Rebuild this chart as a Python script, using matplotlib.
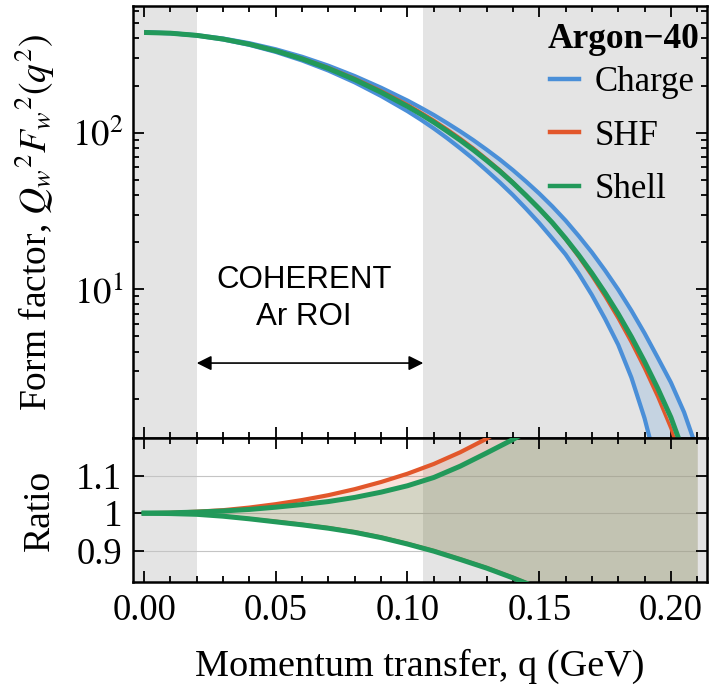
import matplotlib
matplotlib.use('Agg')
import matplotlib.pyplot as plt
from matplotlib.ticker import FixedLocator, FixedFormatter, MultipleLocator, NullFormatter
from matplotlib.lines import Line2D

plt.rcParams['font.family'] = ['Liberation Serif', 'DejaVu Serif']
plt.rcParams['mathtext.fontset'] = 'stix'

# ---------------- data ----------------
q_top = [0.00, 0.01, 0.02, 0.03, 0.04, 0.05, 0.06, 0.07, 0.08, 0.09, 0.10, 0.105,
         0.11, 0.115, 0.12, 0.125, 0.13, 0.135, 0.14, 0.145, 0.15, 0.155, 0.16,
         0.165, 0.17, 0.175, 0.18, 0.185, 0.19, 0.195, 0.20, 0.205, 0.21]
charge_lo = [436.5, 431.4, 416.8, 393.7, 363.5, 327.8, 289.0, 249.2, 209.4, 171.4,
             137.2, 121.3, 106.4, 92.4, 79.5, 68.0, 57.4, 48.2, 40.0, 32.7, 26.5,
             21.1, 16.7, 12.6, 9.20, 6.48, 4.42, 2.73, 1.50, 0.71, 0.28, 0.085, 0.017]
charge_hi = [436.5, 432.1, 419.3, 399.2, 372.7, 340.8, 305.2, 267.6, 229.8, 193.6,
             160.3, 144.5, 129.7, 115.3, 102.0, 89.6, 78.0, 67.5, 57.7, 48.8, 40.9,
             33.8, 27.5, 21.9, 17.2, 13.2, 9.95, 7.31, 5.24, 3.66, 2.54, 1.64, 0.94]
shf = [436.5, 431.8, 418.2, 396.7, 368.4, 335.3, 298.8, 260.5, 222.2, 185.2,
       151.4, 135.2, 120.1, 105.6, 92.2, 79.8, 68.2, 58.0, 48.5, 40.0, 32.7,
       26.3, 20.77, 16.04, 12.14, 8.98, 6.49, 4.56, 3.11, 2.05, 1.29, 0.728, 0.356]
shell = [436.5, 431.8, 418.0, 396.0, 367.1, 333.0, 295.7, 256.9, 218.1, 181.0,
         147.2, 131.4, 116.6, 102.4, 89.5, 77.6, 66.6, 56.8, 47.8, 39.7, 32.7,
         26.6, 21.15, 16.53, 12.66, 9.49, 6.96, 4.97, 3.45, 2.33, 1.52, 0.894, 0.458]

q_ratio = [0.00, 0.01, 0.02, 0.03, 0.04, 0.05, 0.06, 0.07, 0.08, 0.09, 0.10,
           0.11, 0.12, 0.13, 0.14, 0.15, 0.16, 0.17, 0.18, 0.19, 0.20, 0.21]
shf_ratio_hi = [1.000, 1.001, 1.004, 1.008, 1.015, 1.024, 1.035, 1.048, 1.064,
                1.083, 1.105, 1.131, 1.162, 1.198, 1.24, 1.29, 1.35, 1.42, 1.50,
                1.60, 1.72, 1.87]
shf_ratio_lo = [1.000, 0.999, 0.997, 0.993, 0.986, 0.979, 0.971, 0.962, 0.951,
                0.937, 0.920, 0.901, 0.879, 0.856, 0.830, 0.802, 0.772, 0.737,
                0.702, 0.662, 0.612, 0.552]
shell_ratio_hi = [1.000, 1.001, 1.003, 1.006, 1.010, 1.016, 1.023, 1.031, 1.042,
                  1.056, 1.073, 1.095, 1.125, 1.160, 1.196, 1.235, 1.28, 1.33,
                  1.40, 1.48, 1.58, 1.70]
shell_ratio_lo = [1.000, 0.999, 0.997, 0.992, 0.985, 0.977, 0.969, 0.960, 0.949,
                  0.935, 0.918, 0.899, 0.877, 0.854, 0.828, 0.800, 0.770, 0.735,
                  0.700, 0.660, 0.610, 0.550]

roi_lo, roi_hi = 0.02, 0.106
x_ticks = [0.00, 0.05, 0.10, 0.15, 0.20]
x_ticklabels = ['0.00', '0.05', '0.10', '0.15', '0.20']
ratio_ticks = [0.9, 1.0, 1.1]
ratio_ticklabels = ['0.9', '1', '1.1']
legend_title = 'Argon\u221240'
legend_labels = ['Charge', 'SHF', 'Shell']

# ---------------- style ----------------
C_BLUE = '#4a8fd8'
C_RED = '#e2572b'
C_GREEN = '#22995a'
C_GRAY = '#e4e4e4'
XLIM = (-0.0042, 0.2137)

fig = plt.figure(figsize=(7.09, 6.94), dpi=100)
W, H = 709, 694
ax1 = fig.add_axes([133 / W, 1 - 438 / H, 574 / W, 432 / H])
ax2 = fig.add_axes([133 / W, 1 - 582 / H, 574 / W, 144 / H])

for ax in (ax1, ax2):
    ax.set_xlim(*XLIM)
    ax.axvspan(XLIM[0], roi_lo, color=C_GRAY, lw=0, zorder=0)
    ax.axvspan(roi_hi, XLIM[1], color=C_GRAY, lw=0, zorder=0)
    ax.xaxis.set_major_locator(FixedLocator(x_ticks))
    ax.xaxis.set_minor_locator(MultipleLocator(0.01))
    ax.tick_params(which='both', direction='in', top=True, right=True,
                   width=1.3, labelsize=26.5)
    ax.tick_params(which='major', length=8)
    ax.tick_params(which='minor', length=4.5)
    for s in ax.spines.values():
        s.set_linewidth(1.8)

# ---- top panel ----
ax1.set_yscale('log')
ax1.set_ylim(1.123, 644)
ax1.fill_between(q_top, charge_lo, charge_hi, color=C_BLUE, alpha=0.2, lw=0, zorder=1)
ax1.plot(q_top, charge_lo, color=C_BLUE, lw=3.0, zorder=2, solid_capstyle='butt')
ax1.plot(q_top, charge_hi, color=C_BLUE, lw=3.0, zorder=2, solid_capstyle='butt')
ax1.plot(q_top, shf, color=C_RED, lw=2.3, zorder=3, solid_capstyle='butt')
ax1.plot(q_top, shell, color=C_GREEN, lw=3.6, zorder=4, solid_capstyle='butt')

ax1.yaxis.set_major_locator(FixedLocator([10, 100]))
ax1.yaxis.set_major_formatter(FixedFormatter([r'$10^1$', r'$10^2$']))
ax1.yaxis.set_minor_locator(FixedLocator([2, 3, 4, 5, 6, 7, 8, 9, 20, 30, 40, 50,
                                          60, 70, 80, 90, 200, 300, 400, 500, 600]))
ax1.yaxis.set_minor_formatter(NullFormatter())
ax1.tick_params(axis='x', labelbottom=False)
ax1.tick_params(axis='y', pad=7)

ax1.annotate('', xy=(roi_lo, 3.38), xytext=(roi_hi, 3.38),
             arrowprops=dict(arrowstyle='<|-|>', color='black', lw=1.2,
                             mutation_scale=22, shrinkA=0, shrinkB=0), zorder=5)
ax1.text(0.0607, 8.79, 'COHERENT\nAr ROI', ha='center', va='center',
         family='Liberation Sans', fontsize=22.5, linespacing=1.3, zorder=5)

handles = [Line2D([], [], color=C_BLUE, lw=3.2),
           Line2D([], [], color=C_RED, lw=3.2),
           Line2D([], [], color=C_GREEN, lw=3.2)]
leg = ax1.legend(handles, legend_labels,
                 loc='upper right', bbox_to_anchor=(1.003, 0.894), frameon=False,
                 fontsize=25, handlelength=0.85, handletextpad=0.45,
                 labelspacing=0.6, borderaxespad=0.2, borderpad=0.2)
ax1.text(0.9878, 0.9213, legend_title, transform=ax1.transAxes, ha='right',
         va='center', fontsize=25.5, fontweight='bold', zorder=6)

# ---- ratio panel ----
ax2.set_ylim(0.817, 1.20)
for v in ratio_ticks:
    ax2.axhline(v, color='#c4c4c4', lw=0.8, zorder=0.5)
ax2.fill_between(q_ratio, shf_ratio_lo, shf_ratio_hi, color=C_RED, alpha=0.17, lw=0, zorder=1)
ax2.fill_between(q_ratio, shell_ratio_lo, shell_ratio_hi, color=C_GREEN, alpha=0.17, lw=0, zorder=1)
ax2.plot(q_ratio, shf_ratio_hi, color=C_RED, lw=3.0, zorder=3)
ax2.plot(q_ratio, shf_ratio_lo, color=C_RED, lw=2.2, zorder=3)
ax2.plot(q_ratio, shell_ratio_hi, color=C_GREEN, lw=3.6, zorder=4)
ax2.plot(q_ratio, shell_ratio_lo, color=C_GREEN, lw=3.6, zorder=4)
ax2.yaxis.set_major_locator(FixedLocator(ratio_ticks))
ax2.yaxis.set_major_formatter(FixedFormatter(ratio_ticklabels))
ax2.yaxis.set_minor_locator(FixedLocator([]))
ax2.xaxis.set_major_formatter(FixedFormatter(x_ticklabels))
ax2.tick_params(axis='x', pad=8)
ax2.tick_params(axis='y', pad=8)

fig.text(35 / W, 1 - 222 / H, r'Form factor, $Q_w{}^2F_w{}^2(q^2)$', rotation=90,
         ha='center', va='center', fontsize=27)
fig.text(40 / W, 1 - 510 / H, 'Ratio', rotation=90, ha='center', va='center', fontsize=27)
fig.text(420 / W, 1 - 666 / H, 'Momentum transfer, q (GeV)', ha='center', va='center',
         fontsize=27.5)

fig.savefig('out.png', dpi=100)
